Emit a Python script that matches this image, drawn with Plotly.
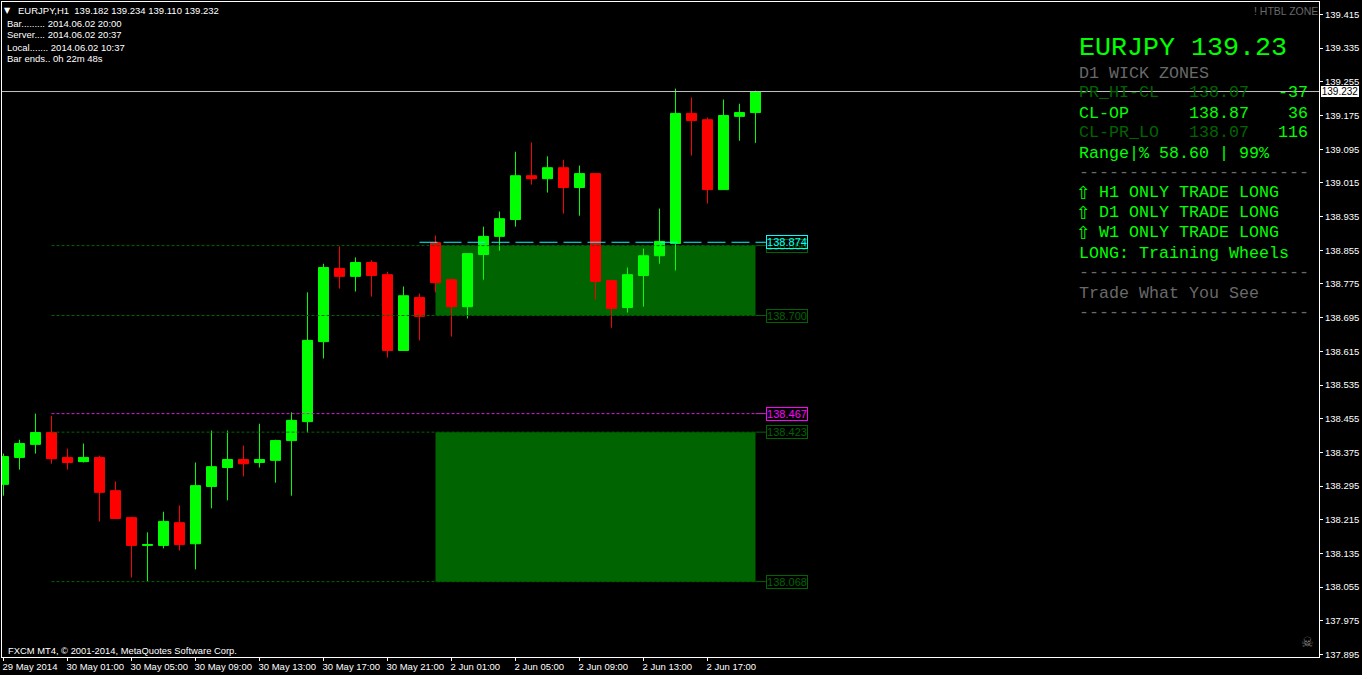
import plotly.graph_objects as go

opens = [138.299,138.363,138.394,138.422,138.363,138.353,138.363,138.284,138.220,138.154,138.154,138.208,
         138.158,138.294,138.339,138.358,138.351,138.356,138.403,138.448,138.638,138.812,138.793,138.826,
         138.797,138.617,138.743,138.873,138.785,138.721,138.845,138.888,138.928,139.032,139.025,139.051,
         139.004,139.037,138.783,138.719,138.795,138.842,138.871,139.180,139.165,138.999,139.173,139.182]
highs = [138.372,138.405,138.467,138.462,138.384,138.396,138.367,138.306,138.222,138.185,138.234,138.249,
         138.351,138.427,138.427,138.391,138.443,138.405,138.470,138.755,138.823,138.864,138.838,138.831,
         138.804,138.769,138.752,138.890,138.788,138.847,138.911,138.947,139.089,139.111,139.078,139.070,
         139.056,139.037,138.783,138.814,138.859,138.954,139.239,139.218,139.170,139.213,139.203,139.234]
lows = [138.272,138.334,138.372,138.348,138.334,138.351,138.211,138.218,138.078,138.068,138.147,138.142,
        138.097,138.242,138.261,138.318,138.339,138.303,138.272,138.422,138.598,138.764,138.757,138.745,
        138.600,138.617,138.641,138.755,138.650,138.693,138.785,138.854,138.911,139.011,138.992,138.942,
        138.937,138.738,138.671,138.707,138.721,138.823,138.807,139.080,138.966,138.999,139.115,139.110]
closes = [138.365,138.396,138.422,138.360,138.351,138.363,138.280,138.218,138.154,138.156,138.211,138.156,
          138.296,138.341,138.358,138.348,138.358,138.403,138.451,138.641,138.814,138.793,138.826,138.795,
          138.617,138.747,138.698,138.778,138.721,138.847,138.888,138.930,139.032,139.025,139.051,139.004,
          139.037,138.781,138.717,138.797,138.842,138.876,139.180,139.163,138.999,139.175,139.182,139.232]

x_tick_idx = [0,4,8,12,16,20,24,28,32,36,40,44]
x_tick_labels = ["29 May 2014","30 May 01:00","30 May 05:00","30 May 09:00","30 May 13:00","30 May 17:00",
                 "30 May 21:00","2 Jun 01:00","2 Jun 05:00","2 Jun 09:00","2 Jun 13:00","2 Jun 17:00"]
y_ticks = [139.415,139.335,139.255,139.175,139.095,139.015,138.935,138.855,138.775,138.695,138.615,
           138.535,138.455,138.375,138.295,138.215,138.135,138.055,137.975,137.895]
y_tick_labels = [f"{v:.3f}" for v in y_ticks]

bid = 139.232
upper_zone = [138.700, 138.866]
lower_zone = [138.068, 138.423]
pivot_level = 138.467
cyan_level = 138.874
zone_start, zone_end = 27, 47
level_start = 3
cyan_start = 26
label_x = 47.65

GREEN = "#006400"
LIME = "#00ff00"
GREY = "#696969"
SANS = "Liberation Sans"
MONO = "Liberation Mono"

L, R, T, B = 2, 1319, 2, 657
def px(v): return (v - L) / (R - L)
def py(v): return (B - v) / (B - T)

fig = go.Figure(go.Candlestick(
    x=list(range(len(opens))), open=opens, high=highs, low=lows, close=closes,
    increasing=dict(line=dict(color=LIME, width=1), fillcolor=LIME),
    decreasing=dict(line=dict(color="#ff0000", width=1), fillcolor="#ff0000"),
    whiskerwidth=0, hoverinfo="skip", showlegend=False))

shapes = []
for lo, hi in (upper_zone, lower_zone):
    shapes.append(dict(type="rect", layer="below", xref="x", yref="y", x0=zone_start, x1=zone_end,
                       y0=lo, y1=hi, fillcolor=GREEN, line=dict(width=0)))
def level(y, color, start=level_start, dash="3px,2px"):
    shapes.append(dict(type="line", xref="x", yref="y", x0=start, x1=zone_end, y0=y, y1=y,
                       line=dict(color=color, width=1, dash=dash)))
    shapes.append(dict(type="line", xref="x", yref="y", x0=zone_end, x1=label_x, y0=y, y1=y,
                       line=dict(color=color, width=1)))
for v in upper_zone + lower_zone:
    level(v, GREEN)
level(pivot_level, "#d020d0")
level(cyan_level, "#00ffff", cyan_start, "18px,6px")
shapes.append(dict(type="line", xref="paper", yref="y", x0=0, x1=1, y0=bid, y1=bid,
                   line=dict(color="#c0c0c0", width=1)))

ann = []
def text(x, y, s, color="#ffffff", size=9.5, font=SANS, anchor="left", **kw):
    ann.append(dict(xref="paper", yref="paper", x=px(x), y=py(y), text=s, showarrow=False,
                    xanchor=anchor, yanchor="middle", font=dict(family=font, size=size, color=color),
                    borderpad=0, borderwidth=0, **kw))

text(4, 10, "▼", size=8, font="DejaVu Sans")
text(18, 10, "EURJPY,H1&nbsp;&nbsp;139.182 139.234 139.110 139.232", size=9.5)
text(7, 23, "Bar......... 2014.06.02 20:00")
text(7, 35, "Server.... 2014.06.02 20:37")
text(7, 47, "Local....... 2014.06.02 10:37")
text(7, 59, "Bar ends.. 0h 22m 48s")
text(8, 650, "FXCM MT4, © 2001-2014, MetaQuotes Software Corp.", size=9.4)
text(1318, 11, "! HTBL ZONE", GREY, 10.5, anchor="right")
text(1307, 642, "☠", "#808080", 14, "DejaVu Sans", anchor="center")

M = 16.67
text(1079, 48, "EURJPY 139.23", LIME, 26.67, MONO)
text(1079, 73, "D1 WICK ZONES", GREY, M, MONO)
text(1079, 93, "PR_HI-CL", GREEN, M, MONO)
text(1189, 93, "138.07", GREEN, M, MONO)
text(1308, 93, "-37", LIME, M, MONO, anchor="right")
text(1079, 113, "CL-OP", LIME, M, MONO)
text(1189, 113, "138.87", LIME, M, MONO)
text(1308, 113, "36", LIME, M, MONO, anchor="right")
text(1079, 133, "CL-PR_LO", GREEN, M, MONO)
text(1189, 133, "138.07", GREEN, M, MONO)
text(1308, 133, "116", LIME, M, MONO, anchor="right")
text(1079, 153, "Range|% 58.60 | 99%", LIME, M, MONO)
dashes = "-" * 23
text(1079, 172, dashes, GREY, M, MONO)
for yy, tf in ((192.5, "H1"), (212.5, "D1"), (232.5, "W1")):
    text(1076, yy, "⇧", LIME, 18, "DejaVu Sans")
    text(1099, yy, f"{tf} ONLY TRADE LONG", LIME, M, MONO)
text(1079, 253, "LONG: Training Wheels", LIME, M, MONO)
text(1079, 272, dashes, GREY, M, MONO)
text(1079, 293, "Trade What You See", GREY, M, MONO)
text(1079, 312, dashes, GREY, M, MONO)

def tag(y, color, s=None):
    ann.append(dict(xref="x", yref="y", x=label_x, y=y, text=s or f"{y:.3f}", showarrow=False,
                    xanchor="left", yanchor="middle", bgcolor="rgba(0,0,0,0)", bordercolor=color,
                    borderwidth=1, borderpad=0, width=40, align="center",
                    font=dict(family=SANS, size=11, color=color)))
for v in upper_zone + lower_zone:
    tag(v, GREEN)
tag(cyan_level, "#00ffff")
tag(pivot_level, "#ff00ff")
ann.append(dict(xref="paper", yref="y", x=1, xshift=2, y=bid, text=f"{bid:.3f}", showarrow=False,
                xanchor="left", yanchor="middle", bgcolor="#ffffff", borderpad=0, borderwidth=0,
                width=38, height=11, align="center",
                font=dict(family=SANS, size=10, color="#000000")))

fig.update_layout(
    width=1362, height=675, autosize=False,
    margin=dict(l=L, r=1362 - R, t=T, b=675 - B, autoexpand=False),
    paper_bgcolor="#000000", plot_bgcolor="#000000",
    boxgap=0.375, boxgroupgap=0, shapes=shapes, annotations=ann, showlegend=False,
    font=dict(family=SANS, color="#ffffff"),
    xaxis=dict(range=[-0.09375, 82.21875], rangeslider=dict(visible=False), showgrid=False, zeroline=False,
               tickmode="array", tickvals=x_tick_idx, ticktext=x_tick_labels, ticks="outside", ticklen=3,
               tickcolor="#ffffff", tickwidth=1, showline=True, linecolor="#ffffff", linewidth=1, mirror=True,
               ticklabelposition="outside right", ticklabelshift=-2, ticklabelstandoff=1, tickangle=0, automargin=False,
               tickfont=dict(family=SANS, size=9.5, color="#ffffff")),
    yaxis=dict(range=[137.889, 139.4446], side="right", showgrid=False, zeroline=False,
               tickmode="array", tickvals=y_ticks, ticktext=y_tick_labels, ticks="outside", ticklen=3,
               tickcolor="#ffffff", tickwidth=1, showline=True, linecolor="#ffffff", linewidth=1, mirror=True,
               automargin=False, tickfont=dict(family=SANS, size=9.5, color="#ffffff")),
)
fig.write_html("out.html", config=dict(displayModeBar=False),
               post_script="document.body.style.margin='0';document.body.style.overflow='hidden';")
